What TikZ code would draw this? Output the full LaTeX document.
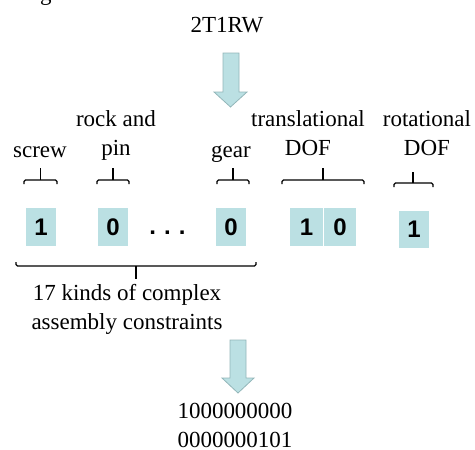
\documentclass[tikz,border=0pt]{standalone}
\usepackage{fontspec}
\setmainfont{Liberation Serif}
\newfontfamily\digitfont{Liberation Sans}
\definecolor{cellfill}{HTML}{BBE0E3}
\definecolor{arrowedge}{HTML}{93B6B9}
\begin{document}
\begin{tikzpicture}[x=1pt,y=-1pt,
  txt/.style={font=\fontsize{23}{29}\selectfont, inner sep=0pt, anchor=base, align=center},
  digits/.style={font=\digitfont\bfseries\fontsize{24}{28}\selectfont},
  cell/.style={digits, fill=cellfill, minimum width=30pt, minimum height=38pt, inner sep=0pt},
  brk/.style={line width=1.4pt, rounded corners=1.5pt},
  tick/.style={line width=1.4pt},
  bigarrow/.style={fill=cellfill, draw=arrowedge, line width=0.8pt, line join=miter}]
\useasboundingbox (0,0) rectangle (475,450);
\clip (0,0) rectangle (475,450);

% cut-off caption letter along the top edge
\node[txt] (capg) at (46,0) {g};

% mechanism code
\node[txt] (code) at (227,32) {2T1RW};

% first wide arrow
\draw[bigarrow] (223,53) -- (239,53) -- (239,92) -- (247,92) -- (230.5,107)
  -- (214,92) -- (223,92) -- cycle;

% category labels (base anchor = last line)
\node[txt] (lscrew) at (40,157) {screw};
\node[txt] (lrock) at (116,155) {rock and\\pin};
\node[txt] (lgear) at (231,157) {gear};
\node[txt] (ltrans) at (308,155) {translational\\DOF};
\node[txt] (lrot) at (427,155) {rotational\\DOF};

% brackets under the labels
\draw[brk] (24,184) -- (24,180) -- (57,180) -- (57,184);
\draw[tick] (40.5,180) -- (40.5,168);
\draw[brk] (97,184) -- (97,180) -- (129,180) -- (129,184);
\draw[tick] (113,180) -- (113,168);
\draw[brk] (217,184) -- (217,180) -- (249,180) -- (249,184);
\draw[tick] (233,180) -- (233,168);
\draw[brk] (282,184) -- (282,180) -- (364,180) -- (364,184);
\draw[tick] (323,180) -- (323,168);
\draw[brk] (394,187) -- (394,183) -- (433,183) -- (433,187);
\draw[tick] (413,183) -- (413,172);

% encoding cells
\node[cell] (c1) at (41,227) {1};
\node[cell] (c2) at (113,227) {0};
\node[digits, inner sep=0pt, anchor=base] (dots) at (167.5,234) {.\,\,.\,\,.};
\node[cell] (c3) at (231,227) {0};
\node[cell, minimum width=33pt] (c4) at (306.5,227) {1};
\node[cell, minimum width=32pt] (c5) at (340,227) {0};
\node[cell, minimum height=37pt] (c6) at (414,229.5) {1};

% brace under the constraint cells
\draw[brk] (16,262) -- (16,266) -- (256,266) -- (256,262);
\draw[tick] (136,266) -- (136,279);
\node[txt] (lkinds) at (127,329) {17 kinds of complex\\assembly constraints};

% second wide arrow
\draw[bigarrow] (230,340) -- (246,340) -- (246,378) -- (254,378) -- (238,393)
  -- (222,378) -- (230,378) -- cycle;

% resulting binary code
\node[txt] (bits) at (235,447) {1000000000\\0000000101};
\end{tikzpicture}
\end{document}
